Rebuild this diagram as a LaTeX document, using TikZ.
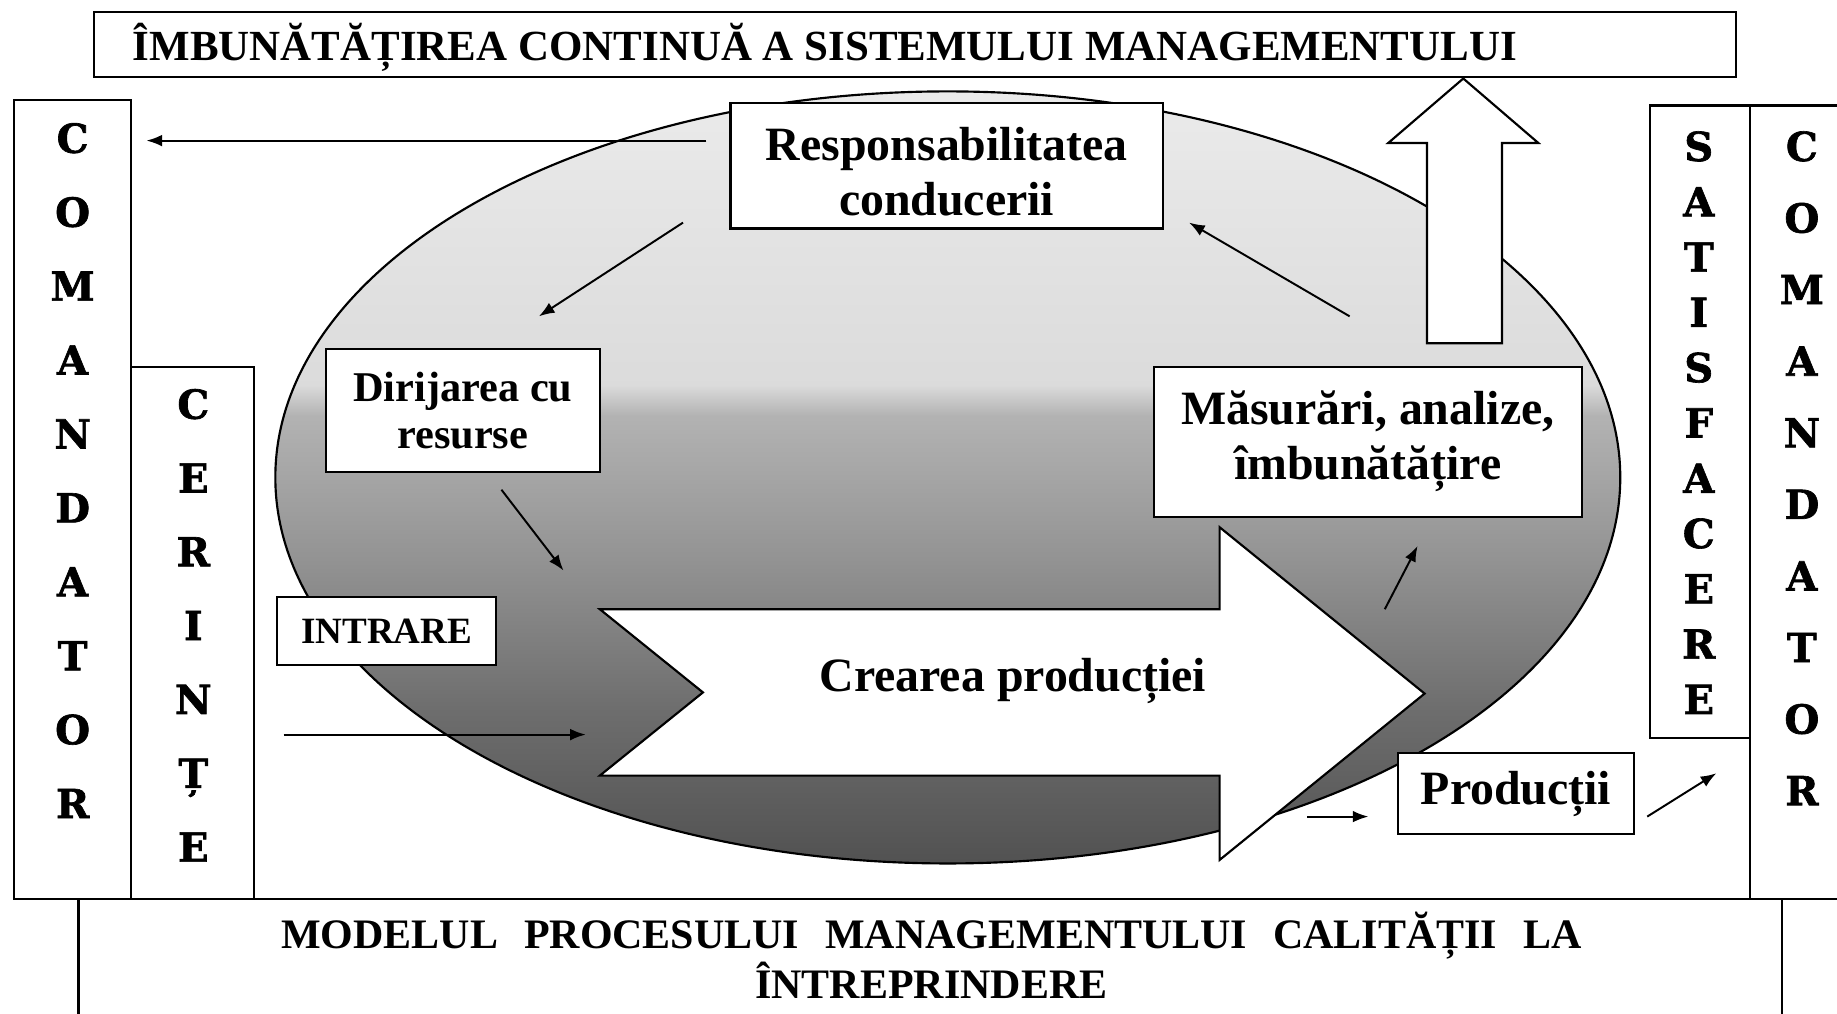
\documentclass[tikz,border=0pt]{standalone}
\usepackage{fontspec}
\setmainfont{Liberation Serif}
\newfontfamily\letterfont[BoldFeatures={FakeBold=1.6}]{DejaVu Serif}
\usetikzlibrary{arrows.meta}
\pgfdeclareverticalshading{ellshade}{100bp}{color(0bp)=(black!68); color(25bp)=(black!68); color(35bp)=(black!57); color(45bp)=(black!42); color(54bp)=(black!30); color(56bp)=(black!14); color(75bp)=(black!8); color(100bp)=(black!8)}
\begin{document}
\begin{tikzpicture}[x=0.6pt,y=-0.6pt,
  frame/.style={draw, line width=1.1pt, inner sep=0pt},
  box/.style={draw, fill=white, line width=1.1pt, inner sep=0pt, align=center},
  arr/.style={line width=1pt, -{Latex[length=8pt,width=6pt]}},
  vlet/.style={inner sep=0pt, anchor=base, font=\letterfont\bfseries\fontsize{20.5}{20.5}\selectfont},
  bigf/.style={font=\bfseries\fontsize{24.5}{28.2}\selectfont},
  shapeline/.style={draw, fill=white, line width=1.1pt, line join=miter},
]
\useasboundingbox (0,0) rectangle (1568,865);
\fill[white] (0,0) rectangle (1568,865);

% title
\node[frame, minimum width=841.2pt, minimum height=33.6pt] (titlebox) at (781,38) {};
\node[anchor=base west, inner sep=0pt, font=\bfseries\fontsize{22}{26}\selectfont] (titletext) at (113,52)
  {ÎMBUNĂTĂȚIREA CONTINUĂ A SISTEMULUI MANAGEMENTULUI};

% side frames
\node[frame, minimum width=60pt, minimum height=409.2pt] (cmdL) at (62,426) {};
\node[frame, minimum width=63pt, minimum height=272.4pt] (cer) at (164.5,540) {};
\node[frame, minimum width=51.6pt, minimum height=324pt] (sat) at (1451,360) {};
\node[frame, minimum width=48.6pt, minimum height=406.2pt] (cmdR) at (1534.5,428.5) {};
\node[frame, minimum width=872.4pt, minimum height=67.8pt] (bottombox) at (794,823.5) {};

% vertical words
\foreach \l [count=\i] in {C,O,M,A,N,D,A,T,O,R}
  \node[vlet] (cl\i) at (62,{118+63.1*(\i-1)+12.4}) {\l};
\foreach \l [count=\i] in {C,E,R,I,N,Ț,E}
  \node[vlet] (ce\i) at (165,{345+63*(\i-1)+12.4}) {\l};
\foreach \l [count=\i] in {S,A,T,I,S,F,A,C,E,R,E}
  \node[vlet] (sa\i) at (1450,{125+47.2*(\i-1)+12.4}) {\l};
\foreach \l [count=\i] in {C,O,M,A,N,D,A,T,O,R}
  \node[vlet] (cr\i) at (1538,{125+61.1*(\i-1)+12.4}) {\l};

% bottom caption
\node[anchor=base, inner sep=0pt, font=\bfseries\fontsize{21.5}{25}\selectfont] (model1) at (795,810)
  {\hbox to 666pt{MODELUL\hfil PROCESULUI\hfil MANAGEMENTULUI\hfil CALITĂȚII\hfil LA}};
\node[anchor=base, inner sep=0pt, font=\bfseries\fontsize{21.5}{25}\selectfont] (model2) at (795,852)
  {ÎNTREPRINDERE};

% ellipse
\shade[shading=ellshade] (809,407.5) ellipse [x radius=344.4pt, y radius=197.7pt];
\draw[line width=1.1pt] (809,407.5) ellipse [x radius=344.4pt, y radius=197.7pt];

% big process arrow
\path[shapeline] (512,520) -- (1041,520) -- (1041,450) -- (1216,592) -- (1041,734)
  -- (1041,662) -- (512,662) -- (600,591) -- cycle;
\node[anchor=base, inner sep=0pt, bigf] (crear) at (864.5,590) {Crearea producției};

% up arrow
\path[shapeline] (1218,293) -- (1218,122) -- (1185,122) -- (1249,67) -- (1313,122)
  -- (1282,122) -- (1282,293) -- cycle;

% boxes
\node[box, bigf, minimum width=221.4pt, minimum height=64.2pt] (resp) at (808,141.5)
  {\rule{0pt}{23pt}Responsabilitatea\\conducerii};
\node[box, font=\bfseries\fontsize{21.7}{24}\selectfont, minimum width=140.4pt, minimum height=63pt] (dir) at (395,350.5)
  {Dirijarea cu\\resurse};
\node[box, bigf, minimum width=219pt, minimum height=76.8pt] (mas) at (1167.5,377)
  {Măsurări, analize,\\îmbunătățire};
\node[box, font=\bfseries\fontsize{19}{22}\selectfont, minimum width=112.2pt, minimum height=34.8pt] (intr) at (330,538.5)
  {INTRARE};
\node[box, bigf, minimum width=121.2pt, minimum height=41.4pt] (prod) at (1294,677.5)
  {Producții};

% connectors
\coordinate (a1s) at (603,120);  \coordinate (a1e) at (125,120);
\coordinate (a2s) at (583,190);  \coordinate (a2e) at (460,270);
\coordinate (a3s) at (428,418);  \coordinate (a3e) at (481,487);
\coordinate (a4s) at (242,627);  \coordinate (a4e) at (500,627);
\coordinate (a5s) at (1152,270); \coordinate (a5e) at (1015,190);
\coordinate (a6s) at (1182,520); \coordinate (a6e) at (1210,466);
\coordinate (a7s) at (1116,697); \coordinate (a7e) at (1168,697);
\coordinate (a8s) at (1406,697); \coordinate (a8e) at (1465,660);
\draw[arr] (a1s) -- (a1e);
\draw[arr] (a2s) -- (a2e);
\draw[arr] (a3s) -- (a3e);
\draw[arr] (a4s) -- (a4e);
\draw[arr] (a5s) -- (a5e);
\draw[arr] (a6s) -- (a6e);
\draw[arr] (a7s) -- (a7e);
\draw[arr] (a8s) -- (a8e);
\end{tikzpicture}
\end{document}
